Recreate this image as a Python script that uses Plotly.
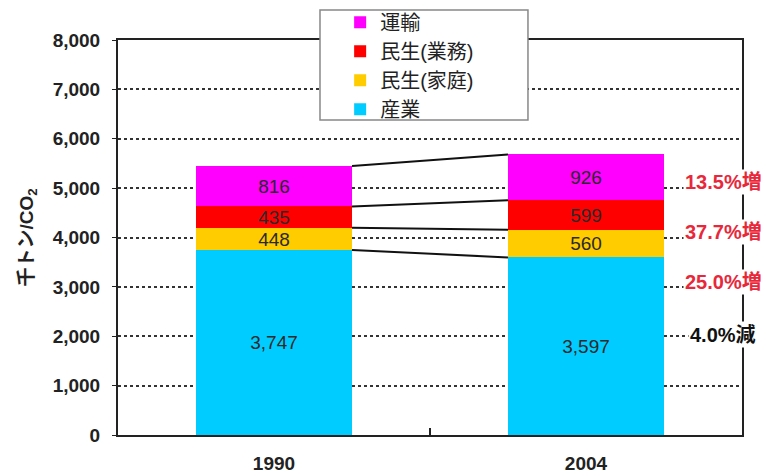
import plotly.graph_objects as go

# CO2 emissions by sector (thousand t-CO2)
years = ["1990", "2004"]
sectors = ["産業", "民生(家庭)", "民生(業務)", "運輸"]
industry = [3747, 3597]
household = [448, 560]
commercial = [435, 599]
transport = [816, 926]

series = [industry, household, commercial, transport]
colors = ["#00CCFF", "#FFCC00", "#FF0000", "#FF00FF"]

FONT = "Liberation Sans, Arial, Noto Sans CJK JP, sans-serif"
BAR_WIDTH = 0.5

fig = go.Figure()
for name, vals, col in zip(sectors, series, colors):
    fig.add_trace(go.Bar(
        x=years, y=vals, name=name,
        marker=dict(color=col, line=dict(width=0)),
        width=BAR_WIDTH,
        text=[f"{v:,}" for v in vals],
        textposition="inside", insidetextanchor="middle",
        textangle=0, constraintext="none",
        textfont=dict(family=FONT, size=19, color="#2a2a2a"),
    ))

# connector lines between stacked boundaries of the two bars
shapes = []
cum_a, cum_b = 0, 0
for vals in series:
    cum_a += vals[0]
    cum_b += vals[1]
    shapes.append(dict(
        type="line", xref="x", yref="y",
        x0=BAR_WIDTH / 2, x1=1 - BAR_WIDTH / 2, y0=cum_a, y1=cum_b,
        line=dict(color="#111", width=2), layer="above",
    ))

# legend frame
shapes.append(dict(
    type="rect", xref="paper", yref="paper",
    x0=0.3237, x1=0.657, y0=0.7975, y1=1.0759,
    fillcolor="white", line=dict(color="#888", width=1.5), layer="above",
))

# change-rate labels on the right side
label_y = [2045, 3097, 4109, 5121]
annotations = []
for vals, yy in zip(series, label_y):
    rate = (vals[1] / vals[0] - 1) * 100
    if rate >= 0:
        txt, col = f"{rate:.1f}%増", "#E8283A"
    else:
        txt, col = f"{-rate:.1f}%減", "#111111"
    annotations.append(dict(
        xref="paper", yref="y", x=0.97, y=yy, text=txt, showarrow=False,
        xanchor="center", yanchor="middle", bgcolor="white",
        font=dict(family=FONT, size=20, color=col, weight="bold"),
    ))

fig.update_layout(
    width=766, height=476,
    margin=dict(l=118, r=24, t=40, b=41, autoexpand=False),
    paper_bgcolor="white", plot_bgcolor="white",
    barmode="stack", bargap=0,
    shapes=shapes, annotations=annotations,
    showlegend=True,
    legend=dict(
        x=0.356, y=1.094, xanchor="left", yanchor="top",
        traceorder="reversed", bgcolor="rgba(0,0,0,0)", borderwidth=0,
        font=dict(family=FONT, size=20, color="#222"),
        itemclick=False,
    ),
    font=dict(family=FONT, color="#222"),
)

fig.update_xaxes(
    type="category", tickson="boundaries", ticks="inside", ticklen=7,
    tickcolor="#222", tickwidth=2,
    showline=True, mirror=True, linecolor="#222", linewidth=2,
    showgrid=False,
    tickfont=dict(family=FONT, size=19, color="#222", weight="bold"),
    ticklabelstandoff=10,
)
fig.update_yaxes(
    range=[0, 8000], dtick=1000, tickformat=",",
    ticks="outside", ticklen=4, tickcolor="#222",
    showline=True, mirror=True, linecolor="#222", linewidth=2,
    showgrid=True, griddash="dot", gridcolor="#333", gridwidth=1.5,
    zeroline=False,
    tickfont=dict(family=FONT, size=19, color="#222", weight="bold"),
    ticklabelstandoff=8,
    title=dict(text="千トン/CO<sub>2</sub>", standoff=14,
               font=dict(family=FONT, size=19, color="#222", weight="bold")),
)

fig.write_html("out.html")
